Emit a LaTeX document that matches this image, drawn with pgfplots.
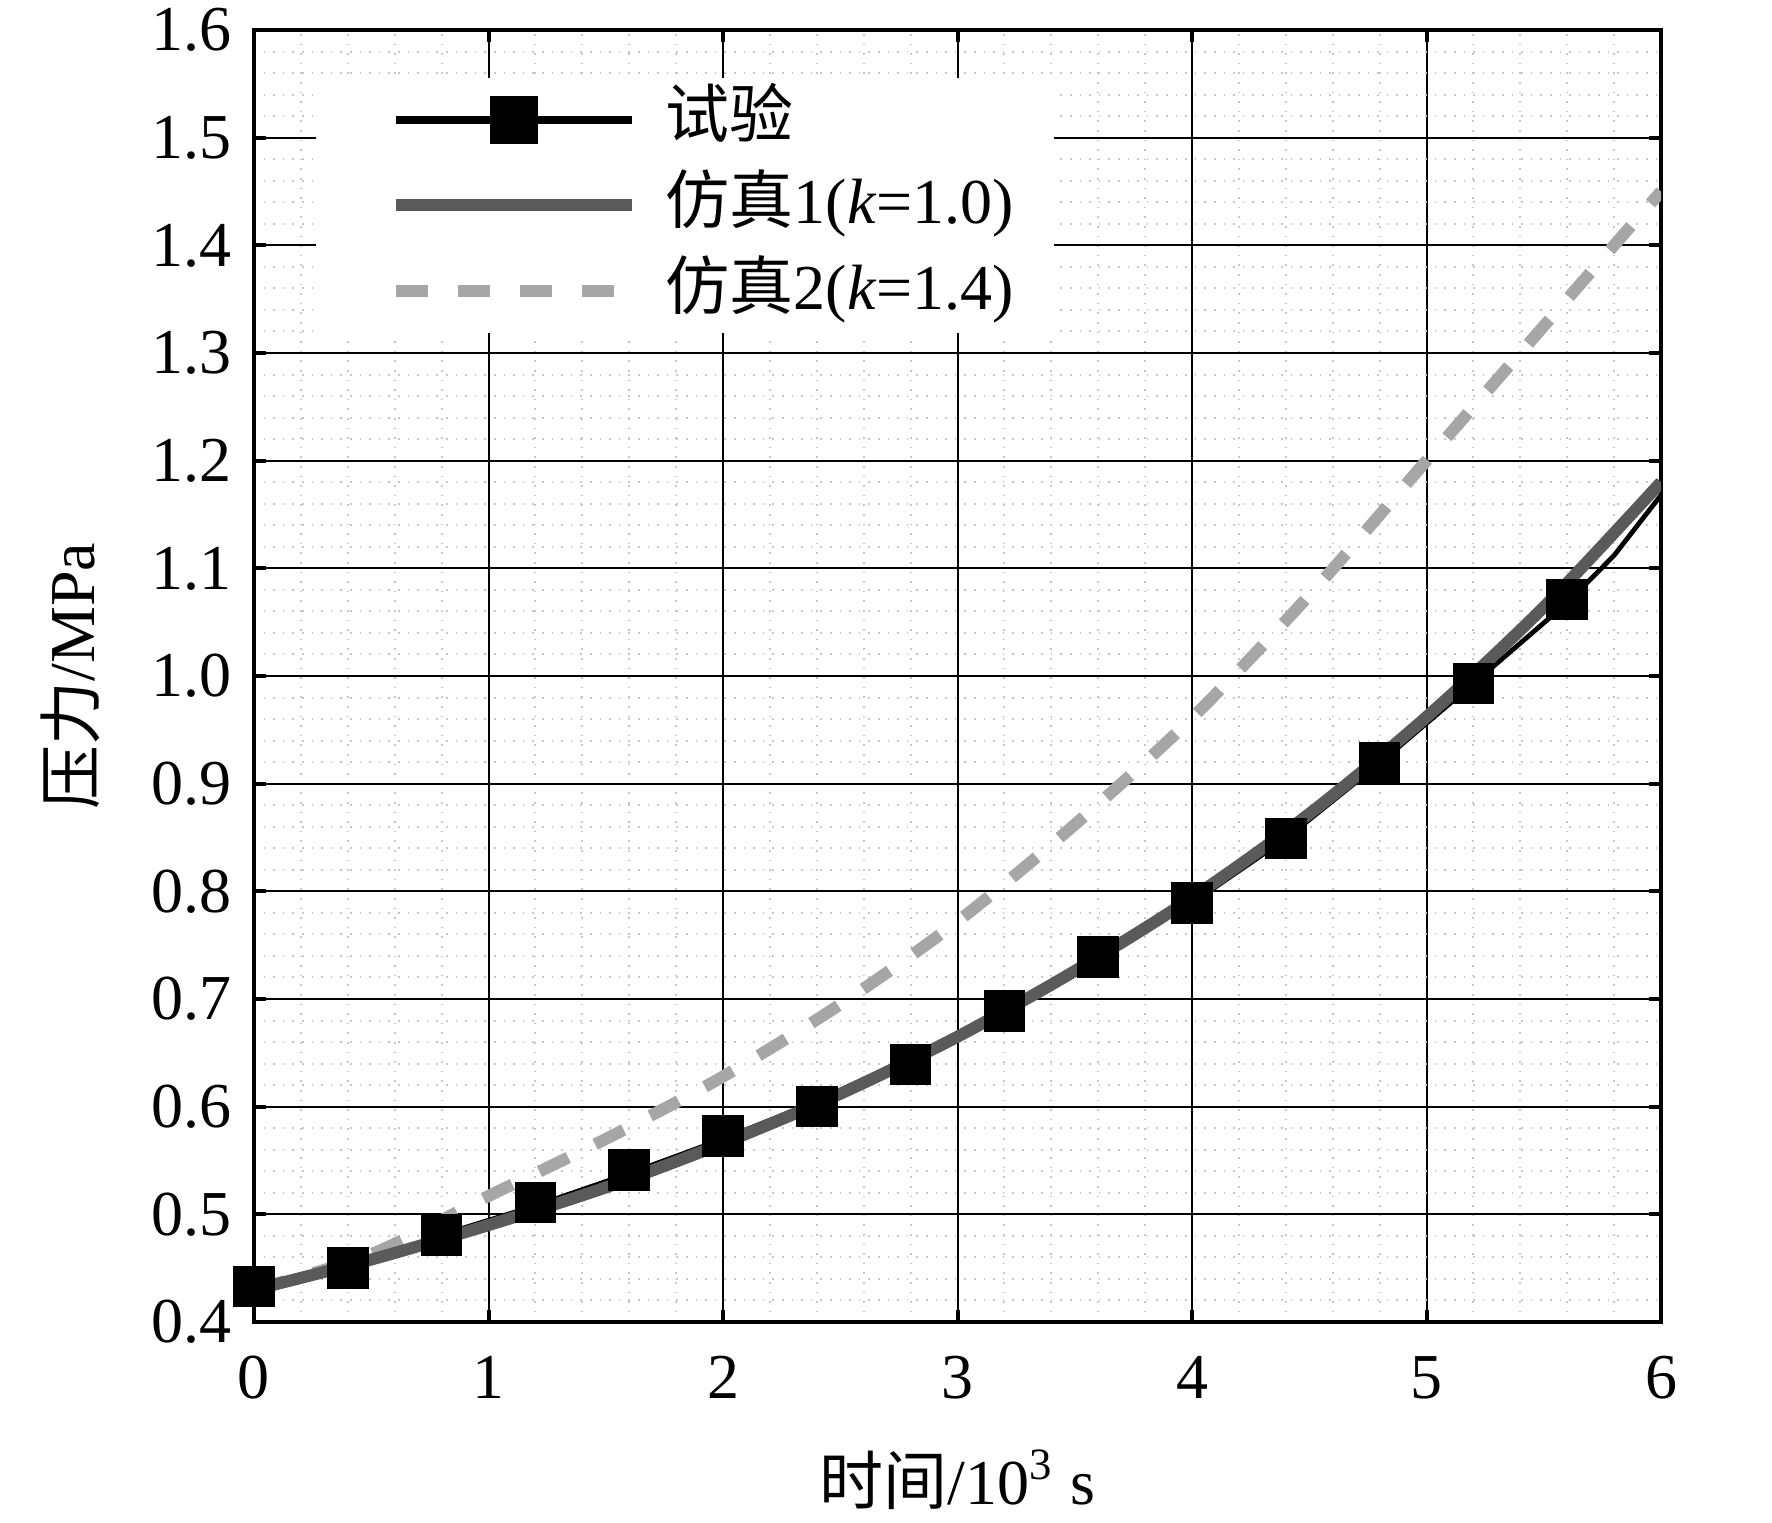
\documentclass[border=0pt]{standalone}
\usepackage{fontspec}
\setmainfont{Liberation Serif}
\newfontfamily\cjk{Noto Sans CJK SC}
\usepackage{pgfplots}
\pgfplotsset{compat=1.18}
\definecolor{simone}{HTML}{5A5A5A}
\definecolor{simtwo}{HTML}{A6A6A6}
\begin{document}
\fontsize{16}{19}\selectfont
\begin{tikzpicture}
\useasboundingbox (-63.5pt,-50pt) rectangle (379.5pt,330.5pt);
\begin{axis}[
  at={(0,0)}, anchor=south west, scale only axis,
  width=351.75pt, height=323pt,
  xmin=0, xmax=6, ymin=0.4, ymax=1.6,
  xtick={0,1,...,6}, ytick={0.4,0.5,...,1.6},
  minor x tick num=4, minor y tick num=4,
  grid=both,
  major grid style={black, line width=0.5pt},
  minor grid style={black!22, dotted, line width=0.5pt},
  axis line style={line width=1.2pt},
  tick style={black, line width=1pt},
  major tick length=3pt, minor tick length=0pt,
  tick align=inside,
  /pgf/number format/assume math mode=true,
  yticklabel style={/pgf/number format/.cd, fixed, fixed zerofill, precision=1},
  ticklabel style={font=\fontsize{16}{19}\selectfont},
  xticklabel style={yshift=-3pt},
  xlabel={{\cjk 时间}/10\textsuperscript{3} s},
  ylabel={{\cjk 压力}/MPa},
  label style={font=\fontsize{16}{19}\selectfont},
  xlabel style={at={(axis description cs:0.5,-0.1223)}, anchor=center},
  ylabel style={at={(axis description cs:-0.1308,0.5)}, anchor=center},
  legend image code/.code={\path (0pt,0pt); \draw[mark repeat=2,mark phase=2,#1] plot coordinates {(8.5pt,0pt)(38pt,0pt)(67.5pt,0pt)};},
  legend style={at={(axis description cs:0.0434,0.9636)}, anchor=north west,
    draw=none, fill=white, inner xsep=10pt, inner ysep=2pt,
    font=\fontsize{16}{19}\selectfont,
    nodes={inner sep=0pt, text height=13pt, text depth=4pt},
    row sep=4.4pt,
    /tikz/every odd column/.append style={column sep=7pt}},
  legend cell align=left,
]
% experiment line
\addplot[black, line width=1.2pt, forget plot] coordinates {
(0,0.433) (0.4,0.450) (0.8,0.481) (1.2,0.508) (1.6,0.538) (2.0,0.570)
(2.4,0.605) (2.8,0.641) (3.2,0.689) (3.6,0.739) (4.0,0.789) (4.4,0.849)
(4.8,0.919) (5.2,0.993) (5.6,1.068) (5.8,1.112) (6.0,1.168)};
% experiment marks
\addplot[black, only marks, mark=square*, mark size=5pt, forget plot] coordinates {
(0,0.433) (0.4,0.450) (0.8,0.481) (1.2,0.511) (1.6,0.541) (2.0,0.573)
(2.4,0.600) (2.8,0.639) (3.2,0.689) (3.6,0.739) (4.0,0.789) (4.4,0.849)
(4.8,0.919) (5.2,0.993) (5.6,1.071)};
% simulation 2 (k=1.4)
\addplot[simtwo, line width=3pt, dash pattern=on 8pt off 7.5pt, smooth, forget plot] coordinates {
(0,0.430) (0.5,0.463) (1.0,0.517) (1.5,0.570) (2.0,0.628) (2.5,0.695)
(3.0,0.772) (3.5,0.862) (4.0,0.961) (4.5,1.075) (5.0,1.200) (5.5,1.325) (6.0,1.450)};
% simulation 1 (k=1.0)
\addplot[simone, line width=3pt, smooth, forget plot] coordinates {
(0,0.430) (0.5,0.458) (1.0,0.490) (1.5,0.525) (2.0,0.566) (2.5,0.612)
(3.0,0.665) (3.5,0.726) (4.0,0.794) (4.5,0.872) (5.0,0.962) (5.5,1.064) (6.0,1.180)};
\addlegendimage{black, line width=2pt, mark=square*, mark size=5pt}
\addlegendentry{\cjk 试验}
\addlegendimage{simone, line width=3pt}
\addlegendentry{{\cjk 仿真}1(\textit{k}=1.0)}
\addlegendimage{simtwo, line width=3pt, dash pattern=on 8pt off 7.5pt}
\addlegendentry{{\cjk 仿真}2(\textit{k}=1.4)}
\end{axis}
\end{tikzpicture}
\end{document}
